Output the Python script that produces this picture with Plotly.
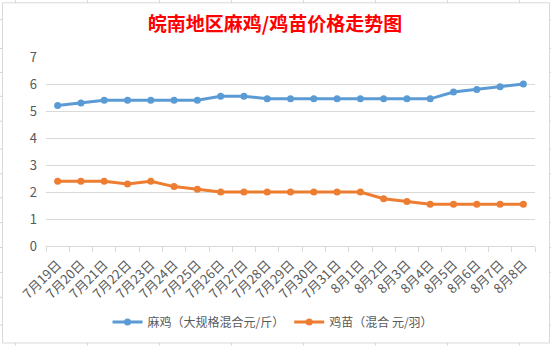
import plotly.graph_objects as go

dates = ["7月19日", "7月20日", "7月21日", "7月22日", "7月23日", "7月24日", "7月25日",
         "7月26日", "7月27日", "7月28日", "7月29日", "7月30日", "7月31日", "8月1日",
         "8月2日", "8月3日", "8月4日", "8月5日", "8月6日", "8月7日", "8月8日"]
maji = [5.2, 5.3, 5.4, 5.4, 5.4, 5.4, 5.4, 5.55, 5.55, 5.45, 5.45, 5.45, 5.45, 5.45,
        5.45, 5.45, 5.45, 5.7, 5.8, 5.9, 6.0]
jimiao = [2.4, 2.4, 2.4, 2.3, 2.4, 2.2, 2.1, 2.0, 2.0, 2.0, 2.0, 2.0, 2.0, 2.0,
          1.75, 1.65, 1.55, 1.55, 1.55, 1.55, 1.55]
y_ticks = [0, 1, 2, 3, 4, 5, 6, 7]

W, H = 551, 347
L, R, T, B = 46, 16, 57, 100
PW, PH = W - L - R, H - T - B

def px(x):
    return (x - L) / PW

def py(y):
    return (H - B - y) / PH

GRAY = "#595959"
FONT = "Noto Sans CJK SC"

fig = go.Figure()
fig.add_trace(go.Scatter(
    x=dates, y=maji, mode="lines+markers", name="麻鸡（大规格混合元/斤）",
    line=dict(color="#5B9BD5", width=3), marker=dict(size=7, color="#5B9BD5")))
fig.add_trace(go.Scatter(
    x=dates, y=jimiao, mode="lines+markers", name="鸡苗（混合 元/羽）",
    line=dict(color="#ED7D31", width=3), marker=dict(size=7, color="#ED7D31")))

shapes = [dict(type="rect", xref="paper", yref="paper",
               x0=px(2.5), x1=px(549.5), y0=py(344.5), y1=py(2.5),
               line=dict(color="#D9D9D9", width=1), layer="below")]
# spreadsheet cell grid peeking outside the chart area
for gx in [15.5, 87.5, 159.5, 231.5, 303.5, 375.5, 447.5, 519.5]:
    shapes.append(dict(type="line", xref="paper", yref="paper",
                       x0=px(gx), x1=px(gx), y0=py(0), y1=py(2.5),
                       line=dict(color="#D4D4D4", width=1)))
    shapes.append(dict(type="line", xref="paper", yref="paper",
                       x0=px(gx), x1=px(gx), y0=py(344.5), y1=py(347),
                       line=dict(color="#D4D4D4", width=1)))
for gy in [19.5, 48.5, 72.5, 96.5, 121.5, 149.5, 174.5, 198.5, 223.5, 248.5,
           273.5, 298.5, 326.5]:
    shapes.append(dict(type="line", xref="paper", yref="paper",
                       x0=px(0), x1=px(2.5), y0=py(gy), y1=py(gy),
                       line=dict(color="#D4D4D4", width=1)))
    shapes.append(dict(type="line", xref="paper", yref="paper",
                       x0=px(549.5), x1=px(551), y0=py(gy), y1=py(gy),
                       line=dict(color="#D4D4D4", width=1)))

fig.update_layout(
    width=W, height=H,
    margin=dict(l=L, r=R, t=T, b=B),
    paper_bgcolor="white", plot_bgcolor="white",
    font=dict(family=FONT, color=GRAY, size=12),
    title=dict(text="<b>皖南地区麻鸡/鸡苗价格走势图</b>",
               font=dict(family=FONT, size=19, color="#FF0000"),
               x=275 / W, xanchor="center", y=1 - 24 / H, yanchor="middle"),
    showlegend=True,
    legend=dict(orientation="h", x=px(273), xanchor="center",
                y=py(322), yanchor="middle",
                font=dict(size=12, color=GRAY), itemwidth=30,
                bgcolor="rgba(0,0,0,0)"),
    shapes=shapes,
    xaxis=dict(type="category", range=[-0.5, len(dates) - 0.5],
               tickangle=-45, tickson="boundaries", ticks="outside",
               ticklen=5, tickcolor="#D9D9D9", showline=True,
               linecolor="#D9D9D9", linewidth=1, showgrid=False,
               ticklabelstandoff=5,
               tickfont=dict(size=13, color=GRAY)),
    yaxis=dict(range=[0, 7], tickvals=y_ticks, showgrid=True,
               gridcolor="#D9D9D9", gridwidth=1, zeroline=False,
               showline=False, ticks="", ticklabelstandoff=8,
               tickfont=dict(size=13, color=GRAY)),
)

fig.write_html("out.html")
